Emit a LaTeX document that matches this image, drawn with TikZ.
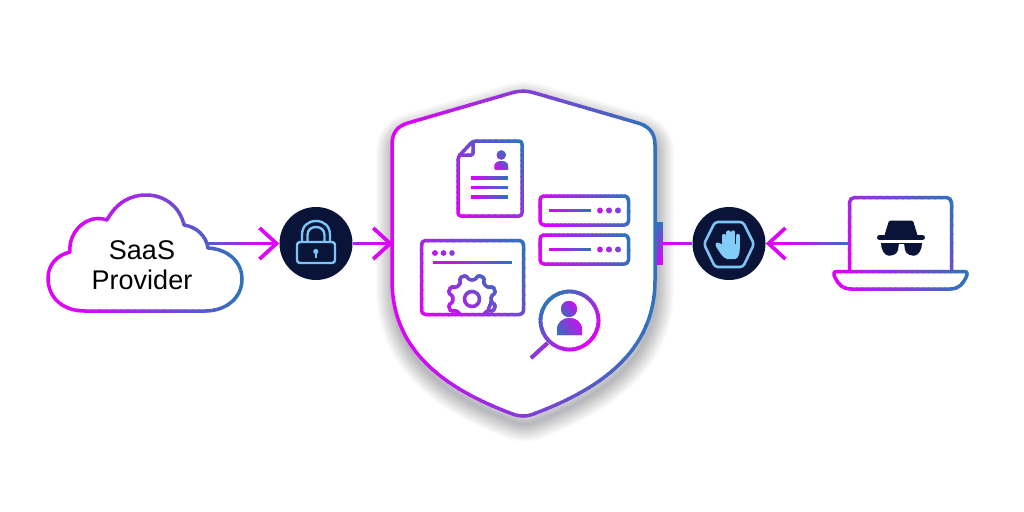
\documentclass[tikz,border=0pt]{standalone}
\usepackage{fontspec}
\setmainfont{Liberation Sans}
\usetikzlibrary{arrows.meta}
\definecolor{gm}{HTML}{E200FA}
\definecolor{gb}{HTML}{2C75BB}
\definecolor{navy}{HTML}{0A1438}
\definecolor{sky}{HTML}{7CC4F5}
\definecolor{handc}{HTML}{84CCF8}
\definecolor{shadowc}{HTML}{1B2A4A}
\tikzset{
  st/.style={draw,line width=3.5pt,line join=round},
  thick line/.style={draw,line width=3.7pt},
  badge/.style={circle,fill=navy,minimum size=73pt,inner sep=0pt},
  skyline/.style={draw=sky,line width=2.4pt,line join=round},
  chevron/.style={-{Straight Barb[length=17pt,width=31pt,line width=3.7pt]}},
}
% #1,#2 magenta end; #3,#4 blue end; #5 path options; #6 path
\newcommand\gradpath[6]{%
  \pgfmathsetmacro\gdx{(#3)-(#1)}%
  \pgfmathsetmacro\gdy{(#4)-(#2)}%
  \pgfmathsetmacro\glen{veclen(\gdx,\gdy)}%
  \pgfmathsetmacro\gnx{-\gdy/\glen*1500}%
  \pgfmathsetmacro\gny{\gdx/\glen*1500}%
  \pgfmathsetmacro\gover{1.2/\glen}%
  \foreach \gi in {0,...,23}{%
    \pgfmathsetmacro\gta{ifthenelse(\gi==0,-4,\gi/24)}%
    \pgfmathsetmacro\gtb{ifthenelse(\gi==23,5,(\gi+1)/24+\gover)}%
    \pgfmathsetmacro\gmix{(\gi+.5)/24*100}%
    \colorlet{gcur}{gb!\gmix!gm}%
    \begin{scope}
      \clip ({#1+\gta*\gdx+\gnx},{#2+\gta*\gdy+\gny}) -- ({#1+\gtb*\gdx+\gnx},{#2+\gtb*\gdy+\gny})
         -- ({#1+\gtb*\gdx-\gnx},{#2+\gtb*\gdy-\gny}) -- ({#1+\gta*\gdx-\gnx},{#2+\gta*\gdy-\gny}) -- cycle;
      \path[color=gcur,#5] #6;
    \end{scope}
  }%
}
\def\shieldpath{(392,145) .. controls (392,132) and (398,126) .. (408,123) -- (513,92.5) .. controls (519,90.7) and (527,90.7) .. (533,92.5) -- (638,123) .. controls (648,126) and (655,132) .. (655,145) -- (655,280) .. controls (655,345) and (610,385) .. (536,413) .. controls (527,417) and (519,417) .. (510,413) .. controls (436,385) and (392,345) .. (392,280) -- cycle}
\begin{document}
\begin{tikzpicture}[x=1pt,y=-1pt]
\useasboundingbox (0,0) rectangle (1024,511);
\fill[white] (0,0) rectangle (1024,511);
% shield shadow
\begin{scope}[shift={(1.5,8)}]
  \foreach \w in {1,2,...,36}{
    \draw[shadowc,line width=\w pt,line join=round,opacity=.0085] \shieldpath;
  }
\end{scope}
\fill[white] \shieldpath;
% side bar
\coordinate (barout) at (663,243.5);
\gradpath{660}{265}{660}{222}{fill}{(657,222) rectangle (663,265)}
\gradpath{392}{250}{655}{250}{st}{\shieldpath}
\coordinate (shieldin) at (393,243.5);
% cloud
\gradpath{70}{260}{242}{260}{st}{(85,311) .. controls (63,311) and (48,298) .. (48,278) .. controls (48,265) and (57,255) .. (70,252) .. controls (68,232) and (87,213) .. (107,220) .. controls (116,203) and (130,195) .. (146,195) .. controls (165,195) and (180,207) .. (184,225) .. controls (197,227) and (206,236) .. (208,248) .. controls (228,249) and (242,262) .. (242,279) .. controls (242,298) and (226,311) .. (205,311) -- cycle}
\node[font=\fontsize{27}{30}\selectfont,align=center,text=black,inner sep=0pt] (saas) at (142,265) {SaaS\\Provider};
\coordinate (cloudout) at (208,243.5);
% badges
\node[badge] (lock) at (316,243.5) {};
\node[badge] (stop) at (729,243.5) {};
% connectors
\gradpath{262}{243.5}{195}{243.5}{thick line,chevron}{(cloudout) -- (lock.west)}
\gradpath{378}{243.5}{300}{243.5}{thick line,chevron}{(lock.east) -- (shieldin)}
\gradpath{665}{243.5}{775}{243.5}{thick line}{(barout) -- (stop.west)}
\coordinate (laptopin) at (850,243.5);
\gradpath{786}{243.5}{850}{243.5}{thick line,chevron}{(laptopin) -- (stop.east)}
% lock icon
\draw[skyline,rounded corners=3pt] (297,242) rectangle (335,263);
\draw[skyline] (302,242) -- (302,235) .. controls (302,226) and (308,221) .. (316,221) .. controls (324,221) and (330,226) .. (330,235) -- (330,242);
\draw[skyline] (307.5,242) -- (307.5,235) .. controls (307.5,230) and (311,227) .. (316,227) .. controls (321,227) and (324.5,230) .. (324.5,235) -- (324.5,242);
\fill[sky] (315.8,251.5) circle (2.6);
\draw[sky,line width=1.6pt] (315.8,252) -- (315.8,257.5);
% stop icon
\draw[skyline,line width=2.6pt,rounded corners=3pt] (704,244) -- (715,222) -- (743,222) -- (754,244) -- (743,267) -- (715,267) -- cycle;
\foreach \x/\t in {723.7/236,728.5/232.5,733.3/232.5,738/236}{
  \draw[handc,line width=4.2pt,line cap=round] (\x,\t) -- (\x,248);
}
\fill[handc] (721.5,244) -- (740,244) -- (739.5,252) .. controls (739,256) and (737,259) .. (735,259) -- (727,259) .. controls (723,258) and (720,253) .. (716,246.5) -- (719,243) -- cycle;
\draw[handc,line width=4pt,line cap=round] (717.5,244.5) -- (722.5,251);
% document
\gradpath{458}{216}{522}{141}{st,rounded corners=3pt}{(458,157) -- (458,216) -- (522,216) -- (522,141) -- (473,141) -- cycle}
\gradpath{458}{216}{522}{141}{st,rounded corners=2pt}{(473,141) -- (473,155) -- (458,155)}
\gradpath{492}{170}{510}{155}{fill}{(501.3,155) circle (4.6)}
\gradpath{495}{170}{508}{160}{fill}{(494.5,169.5) -- (494.5,166) .. controls (494.5,163) and (498,161) .. (501.3,161) .. controls (505,161) and (508,163) .. (508,166) -- (508,169.5) -- cycle}
\foreach \y in {178,187.5,197}{
  \gradpath{471}{\y}{508}{\y}{thick line}{(471,\y) -- (508,\y)}
}
% servers
\foreach \y in {196,235}{
  \gradpath{540}{\y+29}{629}{\y}{st,rounded corners=4pt}{(540,\y) rectangle (628.5,\y+29)}
  \gradpath{549}{\y+14.5}{591}{\y+14.5}{thick line}{(549,\y+14.5) -- (591,\y+14.5)}
  \foreach \x in {600,609,618}{
    \gradpath{590}{\y+14.5}{640}{\y+14.5}{fill}{(\x,\y+14.5) circle (2.9)}
  }
}
% window
\gradpath{421}{315}{524}{240}{st,rounded corners=4pt}{(421.5,240.5) rectangle (523.5,314.5)}
\foreach \x in {435,443.5,452}{
  \gradpath{425}{253}{480}{253}{fill}{(\x,253) circle (2.8)}
}
\gradpath{433}{262.5}{512}{262.5}{thick line}{(433,262.5) -- (512,262.5)}
\begin{scope}
  \clip (421,240) rectangle (524,314);
  \gradpath{450}{325}{497}{274}{st,rounded corners=1.5pt}{([shift={(472,299)}]9.5:19.5) \foreach \a in {22.5,67.5,...,382.5}{ -- ([shift={(472,299)}]\a-13:19.5) -- ([shift={(472,299)}]\a-8:24.5) -- ([shift={(472,299)}]\a+8:24.5) -- ([shift={(472,299)}]\a+13:19.5)} -- cycle}
  \gradpath{450}{325}{497}{274}{st}{(472,299) circle (7.5)}
\end{scope}
% magnifier
\gradpath{590}{342}{548}{300}{st,line width=3.8pt}{(569.5,320.5) circle (29)}
\gradpath{547}{358}{531}{342}{thick line}{(547.5,343) -- (531,358)}
\gradpath{577}{301}{561}{317}{fill}{(569,309) circle (8)}
\gradpath{582}{318}{557}{335}{fill}{(557,335) -- (557,330) .. controls (557,322) and (563,318) .. (569.5,318) .. controls (576,318) and (582,322) .. (582,330) -- (582,335) -- cycle}
% laptop
\gradpath{849}{270}{952}{197}{st,rounded corners=5pt}{(849.5,271) -- (849.5,197.5) -- (951.5,197.5) -- (951.5,271)}
\gradpath{834}{280}{967}{280}{st}{(836,271.5) -- (965,271.5) .. controls (967,271.5) and (967.5,273) .. (967,275) .. controls (964,283) and (959,289) .. (950,289) -- (851,289) .. controls (842,289) and (837,283) .. (834,275) .. controls (833.5,273) and (834,271.5) .. (836,271.5) -- cycle}
% spy
\fill[navy,rounded corners=1.5pt] (884,237) -- (889,220.5) -- (913,220.5) -- (918,237) -- cycle;
\draw[navy,line width=5pt,line cap=round] (879.5,237.5) -- (922.5,237.5);
\fill[navy] (881,243) -- (899,243) -- (898,250) .. controls (897,255) and (891,256) .. (888,255.5) .. controls (884,255) and (881,249) .. (881,243) -- cycle;
\fill[navy] (922,243) -- (904,243) -- (905,250) .. controls (906,255) and (912,256) .. (915,255.5) .. controls (919,255) and (922,249) .. (922,243) -- cycle;
\draw[navy,line width=1.5pt] (898,243.7) -- (905,243.7);
\end{tikzpicture}
\end{document}
